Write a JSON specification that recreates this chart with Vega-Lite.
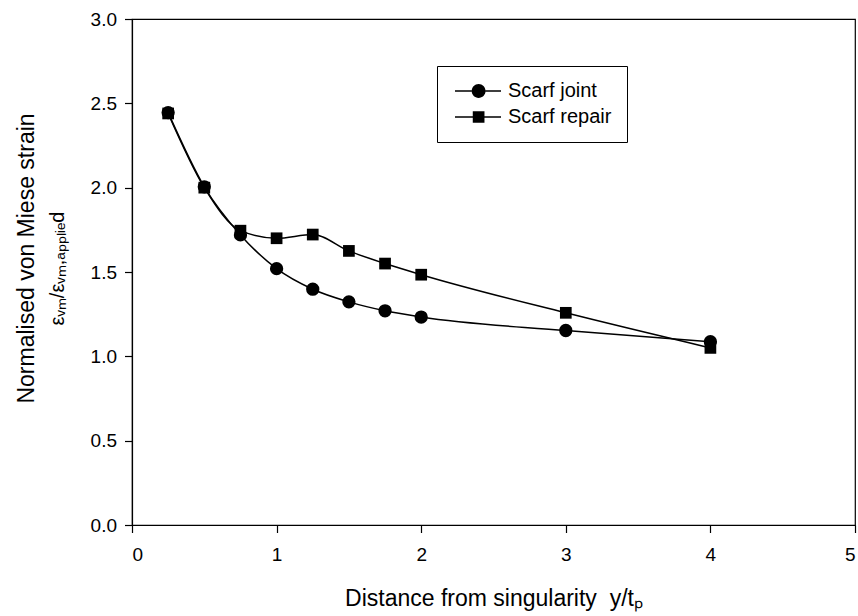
{
  "$schema": "https://vega.github.io/schema/vega-lite/v6.json",
  "width": 723,
  "height": 506,
  "autosize": {"type": "none"},
  "padding": {"left": 132, "top": 19, "right": 3, "bottom": 91},
  "background": "white",
  "config": {
    "font": "Liberation Sans",
    "view": {"stroke": "black", "strokeWidth": 1.2},
    "axis": {
      "grid": false,
      "domainColor": "black",
      "domainWidth": 1.2,
      "tickColor": "black",
      "tickWidth": 1.2,
      "labelColor": "black",
      "titleColor": "black",
      "labelFont": "Liberation Sans",
      "titleFont": "Liberation Sans",
      "titleFontWeight": "normal"
    }
  },
  "data": {
    "values": [
      {"series": "Scarf repair", "x": 0.25, "y": 2.44},
      {"series": "Scarf repair", "x": 0.5, "y": 2.0},
      {"series": "Scarf repair", "x": 0.75, "y": 1.745},
      {"series": "Scarf repair", "x": 1.0, "y": 1.70},
      {"series": "Scarf repair", "x": 1.25, "y": 1.722},
      {"series": "Scarf repair", "x": 1.5, "y": 1.625},
      {"series": "Scarf repair", "x": 1.75, "y": 1.55},
      {"series": "Scarf repair", "x": 2.0, "y": 1.484},
      {"series": "Scarf repair", "x": 3.0, "y": 1.258},
      {"series": "Scarf repair", "x": 4.0, "y": 1.05},
      {"series": "Scarf joint", "x": 0.25, "y": 2.445},
      {"series": "Scarf joint", "x": 0.5, "y": 2.005},
      {"series": "Scarf joint", "x": 0.75, "y": 1.72},
      {"series": "Scarf joint", "x": 1.0, "y": 1.52},
      {"series": "Scarf joint", "x": 1.25, "y": 1.398},
      {"series": "Scarf joint", "x": 1.5, "y": 1.323},
      {"series": "Scarf joint", "x": 1.75, "y": 1.27},
      {"series": "Scarf joint", "x": 2.0, "y": 1.233},
      {"series": "Scarf joint", "x": 3.0, "y": 1.153},
      {"series": "Scarf joint", "x": 4.0, "y": 1.087}
    ]
  },
  "layer": [
    {
      "mark": {"type": "line", "interpolate": "monotone", "color": "black", "strokeWidth": 1.5},
      "encoding": {
        "x": {
          "field": "x",
          "type": "quantitative",
          "scale": {"domain": [0, 5], "nice": false, "zero": false},
          "axis": {
            "values": [0, 1, 2, 3, 4, 5],
            "format": "d",
            "tickSize": 7.5,
            "labelFontSize": 19,
            "labelPadding": 13,
            "title": "Distance from singularity\u00a0 y/tₚ",
            "titleFontSize": 23,
            "titleBaseline": "alphabetic",
            "titleY": 80
          }
        },
        "y": {
          "field": "y",
          "type": "quantitative",
          "scale": {"domain": [0, 3], "nice": false, "zero": false},
          "axis": {
            "orient": "left",
            "values": [0, 0.5, 1, 1.5, 2, 2.5, 3],
            "format": ".1f",
            "tickSize": 7.5,
            "labelFontSize": 19,
            "labelPadding": 8,
            "title": "Normalised von Miese strain",
            "titleFontSize": 23,
            "titleBaseline": "alphabetic",
            "titleAlign": "center",
            "titleAngle": 270,
            "titleX": -99,
            "titleY": 239
          }
        },
        "detail": {"field": "series"}
      }
    },
    {
      "mark": {"type": "point", "filled": true, "opacity": 1, "color": "black", "strokeWidth": 0},
      "encoding": {
        "x": {"field": "x", "type": "quantitative"},
        "y": {
          "field": "y",
          "type": "quantitative",
          "axis": {
            "orient": "left",
            "labels": false,
            "ticks": false,
            "domain": false,
            "grid": false,
            "title": "εᵥₘ/εᵥₘ,ₐₚₚₗᵢₑd",
            "titleFontSize": 20,
            "titleBaseline": "alphabetic",
            "titleAlign": "center",
            "titleAngle": 270,
            "titleX": -69,
            "titleY": 249
          }
        },
        "shape": {
          "field": "series",
          "type": "nominal",
          "scale": {"domain": ["Scarf joint", "Scarf repair"], "range": ["circle", "square"]},
          "legend": null
        },
        "size": {"condition": {"test": "datum.series === 'Scarf joint'", "value": 177}, "value": 137}
      }
    },
    {
      "transform": [{"filter": "false"}],
      "mark": {"type": "point", "filled": true, "color": "black", "strokeWidth": 0, "opacity": 1},
      "encoding": {
        "shape": {
          "field": "series",
          "type": "nominal",
          "scale": {
            "domain": ["Scarf joint", "Scarf repair"],
            "range": [
              "M-1.17,-0.12H1.63V0.12H-1.17ZM3.91,-0.12H6.5V0.12H3.91ZM1.62,0A1.15,1.15 0 1,0 3.92,0A1.15,1.15 0 1,0 1.62,0Z",
              "M-1.17,-0.12H1.8V0.12H-1.17ZM3.74,-0.12H6.5V0.12H3.74ZM1.795,-0.975H3.745V0.975H1.795Z"
            ]
          },
          "legend": {
            "title": null,
            "orient": "none",
            "legendX": 305,
            "legendY": 47,
            "padding": 15,
            "rowPadding": 6,
            "strokeColor": "black",
            "fillColor": "white",
            "labelFontSize": 20,
            "labelColor": "black",
            "labelOffset": 36,
            "symbolSize": 144,
            "symbolFillColor": "black",
            "symbolStrokeColor": "black",
            "symbolStrokeWidth": 0,
            "symbolOpacity": 1
          }
        }
      }
    }
  ],
  "resolve": {"axis": {"y": "independent"}, "scale": {"shape": "independent"}}
}
